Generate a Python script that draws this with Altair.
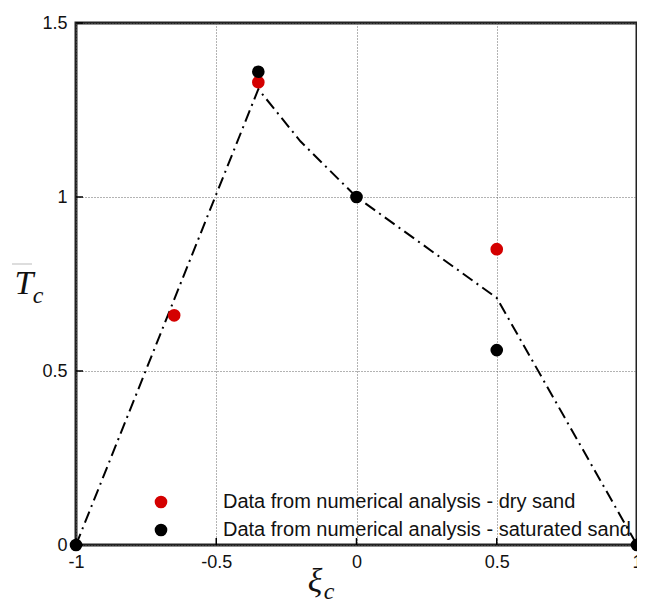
import altair as alt
import pandas as pd

# ---- data ----
dry_xi = [-0.65, -0.35, 0.5]
dry_T = [0.66, 1.33, 0.85]
sat_xi = [-1.0, -0.35, 0.0, 0.5, 1.0]
sat_T = [0.0, 1.36, 1.0, 0.56, 0.0]
line_xi = [-1.0, -0.35, -0.2, 0.0, 0.5, 1.0]
line_T = [0.0, 1.31, 1.16, 1.0, 0.71, 0.0]
x_ticks = [-1, -0.5, 0, 0.5, 1]
y_ticks = [0, 0.5, 1, 1.5]
series_names = ["Data from numerical analysis - dry sand",
                "Data from numerical analysis - saturated sand"]
series_colors = ["#d40000", "#000000"]

W, H = 561, 522

pts = pd.DataFrame({
    "xi": dry_xi + sat_xi,
    "T": dry_T + sat_T,
    "series": [series_names[0]] * len(dry_xi) + [series_names[1]] * len(sat_xi),
    "order": [0] * len(dry_xi) + [1] * len(sat_xi),
})
line_df = pd.DataFrame({"xi": line_xi, "T": line_T})

xs = alt.Scale(domain=[-1, 1], nice=False, zero=False)
ys = alt.Scale(domain=[0, 1.5], nice=False, zero=False)

x_axis = alt.Axis(values=x_ticks, title=None, grid=True, ticks=False, domain=False,
                  labelExpr="'' + datum.value", labelFlush=False, labelPadding=8,
                  labelFontSize=18, labelFont="Liberation Sans", labelColor="#111",
                  gridDash=[1, 2], gridColor="#666", gridWidth=1)
y_axis = alt.Axis(values=y_ticks, title=None, grid=True, ticks=False, domain=False,
                  labelExpr="'' + datum.value", labelFlush=False, labelPadding=9,
                  labelFontSize=18, labelFont="Liberation Sans", labelColor="#111",
                  gridDash=[1, 2], gridColor="#666", gridWidth=1)

base_line = alt.Chart(line_df).mark_line(
    color="black", strokeWidth=2, strokeDash=[12, 5, 2, 5]
).encode(
    x=alt.X("xi:Q", scale=xs, axis=x_axis),
    y=alt.Y("T:Q", scale=ys, axis=y_axis),
)

points = alt.Chart(pts).mark_point(filled=True, size=160, opacity=1, shape="circle").encode(
    x=alt.X("xi:Q", scale=xs),
    y=alt.Y("T:Q", scale=ys),
    color=alt.Color("series:N",
                    scale=alt.Scale(domain=series_names, range=series_colors),
                    legend=alt.Legend(title=None, orient="none", legendX=75, legendY=469,
                                      symbolSize=160, symbolType="circle",
                                      symbolStrokeWidth=0, labelFontSize=20,
                                      labelFont="Liberation Sans", labelColor="#111",
                                      labelOffset=52, rowPadding=8, padding=0,
                                      labelLimit=600)),
    order=alt.Order("order:Q"),
)

xt = alt.Chart(pd.DataFrame({"v": x_ticks})).mark_rule(color="black", strokeWidth=1.5).encode(
    x=alt.X("v:Q", scale=xs), y=alt.value(H), y2=alt.value(H - 7)
)
yt = alt.Chart(pd.DataFrame({"v": y_ticks})).mark_rule(color="black", strokeWidth=1.5).encode(
    y=alt.Y("v:Q", scale=ys), x=alt.value(0), x2=alt.value(7)
)

# axis titles
t_main = alt.Chart(pd.DataFrame({"t": ["T"]})).mark_text(
    font="Liberation Serif", fontStyle="italic", fontSize=34, align="center", baseline="middle",
    color="#111"
).encode(text="t:N", x=alt.value(-52), y=alt.value(261))
t_sub = alt.Chart(pd.DataFrame({"t": ["c"]})).mark_text(
    font="Liberation Serif", fontStyle="italic", fontSize=24, align="center", baseline="middle",
    color="#111"
).encode(text="t:N", x=alt.value(-38), y=alt.value(273))
t_bar = alt.Chart(pd.DataFrame({"t": [0]})).mark_rule(color="#bbb", strokeWidth=1).encode(
    x=alt.value(-64), x2=alt.value(-44), y=alt.value(241)
)
x_main = alt.Chart(pd.DataFrame({"t": ["ξ"]})).mark_text(
    font="Liberation Serif", fontStyle="italic", fontSize=34, align="center", baseline="middle",
    color="#111"
).encode(text="t:N", x=alt.value(239), y=alt.value(559))
x_sub = alt.Chart(pd.DataFrame({"t": ["c"]})).mark_text(
    font="Liberation Serif", fontStyle="italic", fontSize=24, align="center", baseline="middle",
    color="#111"
).encode(text="t:N", x=alt.value(253), y=alt.value(569))

chart = alt.layer(
    base_line, xt, yt, points, t_main, t_sub, t_bar, x_main, x_sub
).properties(
    width=W, height=H,
    background="white",
    autosize=alt.AutoSizeParams(type="none"),
    padding={"left": 68, "top": 15, "right": 0, "bottom": 56},
).configure_view(
    stroke="#222", strokeWidth=3
)

chart.save("out.html", embed_options={"renderer": "svg", "actions": False})
